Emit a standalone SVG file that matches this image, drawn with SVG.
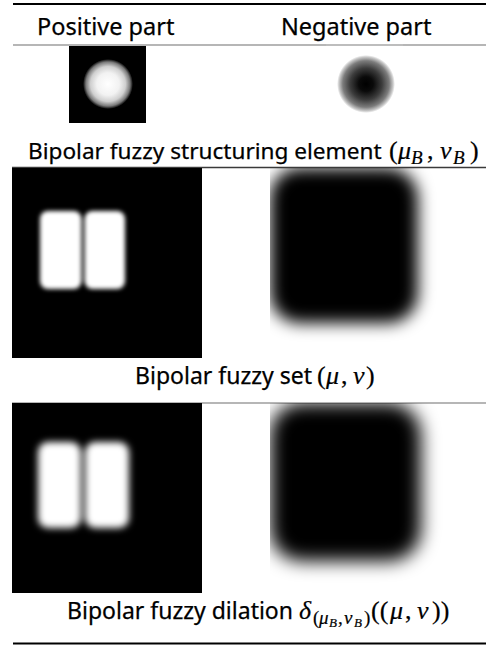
<svg xmlns="http://www.w3.org/2000/svg" width="486" height="645" viewBox="0 0 486 645">
<style>
  .t { font-family: "Noto Sans", "Open Sans", sans-serif; font-size: 23px; fill: #000; stroke: #000; stroke-width: 0.25; }
  .h { font-size: 23.5px; }
  .c1 { font-size: 22.6px; }
  .m { font-family: "Liberation Serif", "DejaVu Serif", serif; font-size: 26px; font-style: normal; stroke-width: 0.2; }
  .mi { font-family: "Liberation Serif", "DejaVu Serif", serif; font-size: 26px; font-style: italic; stroke-width: 0.2; }
  .s { font-size: 19px; }
  .ss { font-size: 13px; }
  .rule { stroke: #000; stroke-width: 2; }
  .thin { stroke: #6e6e6e; stroke-width: 1.2; }
</style>
<defs>
  <filter id="b1" x="-30%" y="-30%" width="160%" height="160%"><feGaussianBlur stdDeviation="2.2"/></filter>
  <filter id="b2" x="-30%" y="-30%" width="160%" height="160%"><feGaussianBlur stdDeviation="3.5"/></filter>
  <filter id="b3" x="-40%" y="-40%" width="180%" height="180%"><feGaussianBlur stdDeviation="8"/></filter>
  <filter id="b4" x="-40%" y="-40%" width="180%" height="180%"><feGaussianBlur stdDeviation="9"/></filter>
  <filter id="b5" x="-50%" y="-10%" width="200%" height="120%"><feGaussianBlur stdDeviation="1"/></filter>
  <radialGradient id="gPos">
    <stop offset="0" stop-color="#fff"/>
    <stop offset="0.45" stop-color="#f2f2f2"/>
    <stop offset="0.7" stop-color="#cfcfcf"/>
    <stop offset="0.88" stop-color="#7a7a7a"/>
    <stop offset="1" stop-color="#000"/>
  </radialGradient>
  <radialGradient id="gNeg">
    <stop offset="0" stop-color="#000"/>
    <stop offset="0.25" stop-color="#0a0a0a"/>
    <stop offset="0.55" stop-color="#3c3c3c"/>
    <stop offset="0.8" stop-color="#7c7c7c"/>
    <stop offset="0.93" stop-color="#c8c8c8"/>
    <stop offset="1" stop-color="#fff"/>
  </radialGradient>
  <clipPath id="cP1"><rect x="12" y="168" width="190" height="190"/></clipPath>
  <clipPath id="cP2"><rect x="12" y="403" width="190" height="190"/></clipPath>
  <clipPath id="cN1"><rect x="270" y="168" width="190" height="190"/></clipPath>
  <clipPath id="cN2"><rect x="270" y="403" width="190" height="190"/></clipPath>
</defs>

<g id="rules">
  <line class="rule" x1="13" y1="4" x2="486" y2="4"/>
  <line class="thin" x1="13" y1="45" x2="486" y2="45"/>
  <line x1="326" y1="45" x2="403" y2="45" stroke="#c4c4c4" stroke-width="1.2"/>
  <line x1="12" y1="167.5" x2="486" y2="167.5" stroke="#3a3a3a" stroke-width="1.3"/>
  <line class="thin" x1="12" y1="403" x2="486" y2="403"/>
  <line class="rule" x1="13" y1="643.5" x2="486" y2="643.5"/>
</g>

<g id="header">
  <text class="t h" x="37" y="35">Positive part</text>
  <text class="t h" x="281" y="35">Negative part</text>
</g>

<g id="se-positive">
  <rect x="69" y="46" width="77" height="77" fill="#000"/>
  <circle cx="108" cy="84" r="25" fill="url(#gPos)"/>
</g>
<g id="se-negative">
  <circle cx="366" cy="84" r="29" fill="url(#gNeg)"/>
</g>
<text id="caption-se" class="t c1" x="28" y="159">Bipolar fuzzy structuring element <tspan class="m" x="389">(</tspan><tspan class="mi" x="398">μ</tspan><tspan class="mi s" x="411" dy="5">B</tspan><tspan class="m" x="427" dy="-5">,</tspan><tspan class="mi" x="440">ν</tspan><tspan class="mi s" x="453" dy="5">B</tspan><tspan class="m" x="470" dy="-5">)</tspan></text>

<g id="set-positive" clip-path="url(#cP1)">
  <rect x="12" y="168" width="190" height="190" fill="#000"/>
  <g filter="url(#b1)" fill="#fff">
    <rect x="40" y="211" width="41.5" height="78" rx="8"/>
    <rect x="84.5" y="211" width="40.5" height="78" rx="8"/>
  </g>
</g>
<g id="set-negative" clip-path="url(#cN1)">
  <rect x="270" y="168" width="148" height="155" rx="30" fill="#000" filter="url(#b3)"/>
  <line x1="343" y1="168" x2="343" y2="330" stroke="#fff" stroke-opacity="0.12" stroke-width="2" filter="url(#b5)"/>
</g>
<text id="caption-set" class="t" x="135" y="384">Bipolar fuzzy set <tspan class="m" x="317">(</tspan><tspan class="mi" x="326">μ</tspan><tspan class="m" x="341">,</tspan><tspan class="mi" x="353">ν</tspan><tspan class="m" x="366">)</tspan></text>

<g id="dil-positive" clip-path="url(#cP2)">
  <rect x="12" y="403" width="190" height="190" fill="#000"/>
  <g filter="url(#b2)" fill="#fff">
    <rect x="38" y="442" width="43" height="86" rx="10"/>
    <rect x="85" y="442" width="44" height="86" rx="10"/>
  </g>
</g>
<g id="dil-negative" clip-path="url(#cN2)">
  <rect x="270" y="403" width="151" height="158" rx="32" fill="#000" filter="url(#b4)"/>
  <line x1="343" y1="403" x2="343" y2="568" stroke="#fff" stroke-opacity="0.12" stroke-width="2" filter="url(#b5)"/>
</g>
<text id="caption-dil" class="t" x="67" y="619">Bipolar fuzzy dilation <tspan class="mi" x="299">δ</tspan><tspan class="m s" x="313" dy="5">(</tspan><tspan class="mi s" x="319">μ</tspan><tspan class="mi ss" x="329" dy="3">B</tspan><tspan class="m s" x="338" dy="-3">,</tspan><tspan class="mi s" x="344">ν</tspan><tspan class="mi ss" x="354" dy="3">B</tspan><tspan class="m s" x="364" dy="-3">)</tspan><tspan class="m" x="371" dy="-5">((</tspan><tspan class="mi" x="390">μ</tspan><tspan class="m" x="405">,</tspan><tspan class="mi" x="417">ν</tspan><tspan class="m" x="432">))</tspan></text>
</svg>
